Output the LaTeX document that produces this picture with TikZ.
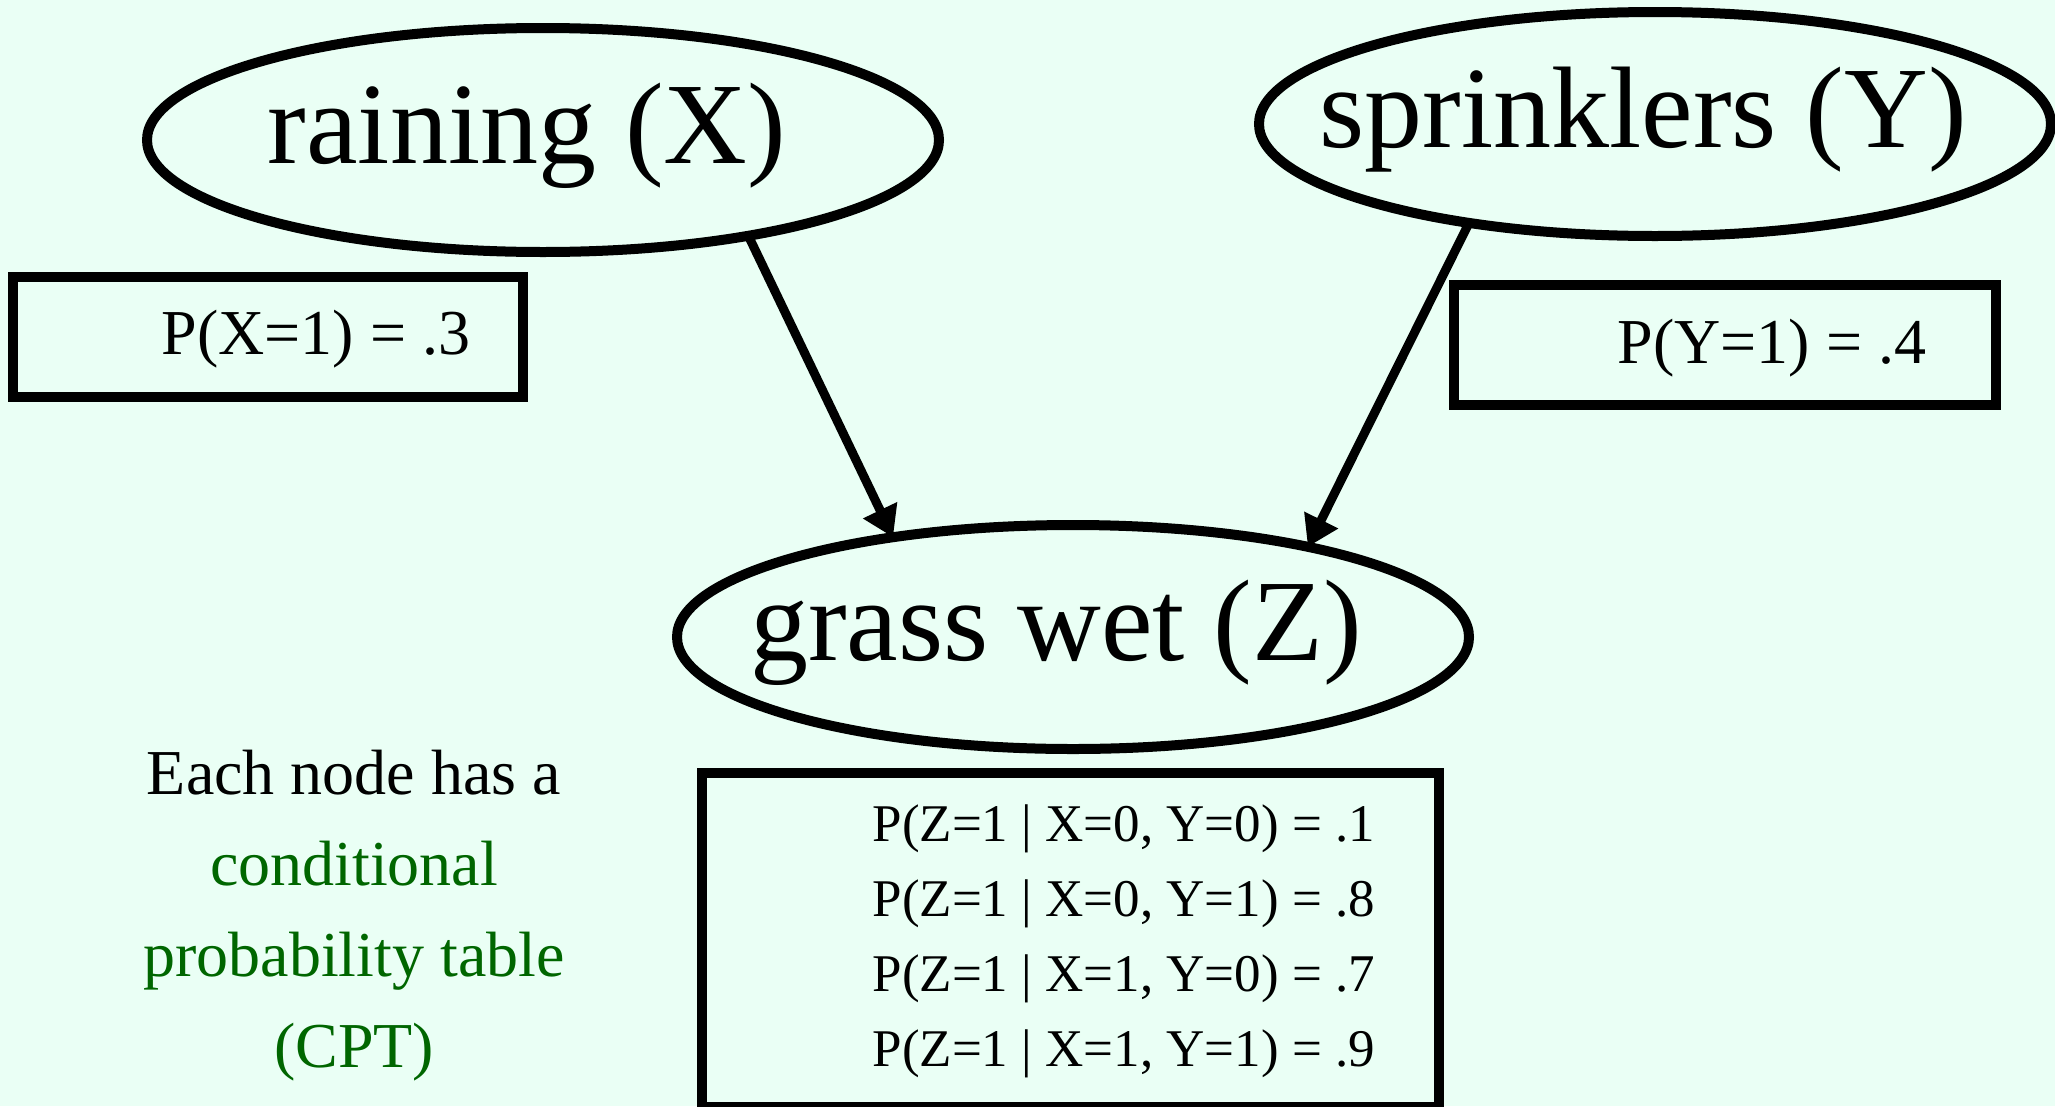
\documentclass[tikz,border=0pt]{standalone}
\usepackage{fontspec}
\setmainfont{Liberation Serif}
\usetikzlibrary{shapes.geometric,arrows.meta}
\definecolor{mintbg}{RGB}{234,255,245}
\definecolor{cptgreen}{RGB}{0,102,0}

\begin{document}
\begin{tikzpicture}[x=1pt, y=-1pt,
    var/.style={ellipse, draw, line width=10pt, inner sep=0pt, outer sep=0pt,
        minimum width=792pt, minimum height=224pt,
        font=\fontsize{116}{116}\selectfont, text height=80pt, text depth=34pt},
    probbox/.style={rectangle, draw, line width=10pt, inner sep=0pt, outer sep=0pt},
    probtext/.style={anchor=base, font=\fontsize{64}{64}\selectfont},
    cpttext/.style={anchor=base west, font=\fontsize{53}{53}\selectfont},
    captext/.style={anchor=base, font=\fontsize{64}{64}\selectfont},
    edge/.style={line width=9pt, -{Triangle[length=30pt,width=36pt]}}]
    \fill[mintbg] (0,0) rectangle (2055,1106);
    \useasboundingbox (0,0) rectangle (2055,1106);
    % the three variables
    \node[var] (rain) at (543,140) {\makebox[0pt]{\hspace{-32pt}raining (X)}};
    \node[var] (sprink) at (1655,124) {\makebox[0pt]{\hspace{-24pt}sprinklers (Y)}};
    \node[var] (wet) at (1073,637) {\makebox[0pt]{\hspace{-34pt}grass wet (Z)}};
    \draw[edge] (rain.-25) -- (wet.151);
    \draw[edge] (sprink.208.5) -- (wet.21);
    % priors
    \node[probbox, minimum width=510pt, minimum height=120pt] (pxbox) at (268,337) {};
    \node[probtext] (pxtext) at (316,354) {P(X=1) = .3};
    \node[probbox, minimum width=542pt, minimum height=120pt] (pybox) at (1725,345) {};
    \node[probtext] (pytext) at (1772,363) {P(Y=1) = .4};
    % table for Z
    \node[probbox, minimum width=737pt, minimum height=334pt] (cptbox) at (1070,940) {};
    \foreach \i/\x/\y/\v in {1/0/0/.1, 2/0/1/.8, 3/1/0/.7, 4/1/1/.9}
        \node[cpttext] (cpt\i) at (869,{766+75*\i}) {P(Z=1 | X=\x, Y=\y) = \v};
    \foreach \i/\col/\txt in {1/black/{Each node has a}, 2/cptgreen/{conditional}, 3/cptgreen/{probability table}, 4/cptgreen/{(CPT)}}
        \node[captext, text=\col] (cap\i) at (354,{703+91*\i}) {\txt};
\end{tikzpicture}
\end{document}
